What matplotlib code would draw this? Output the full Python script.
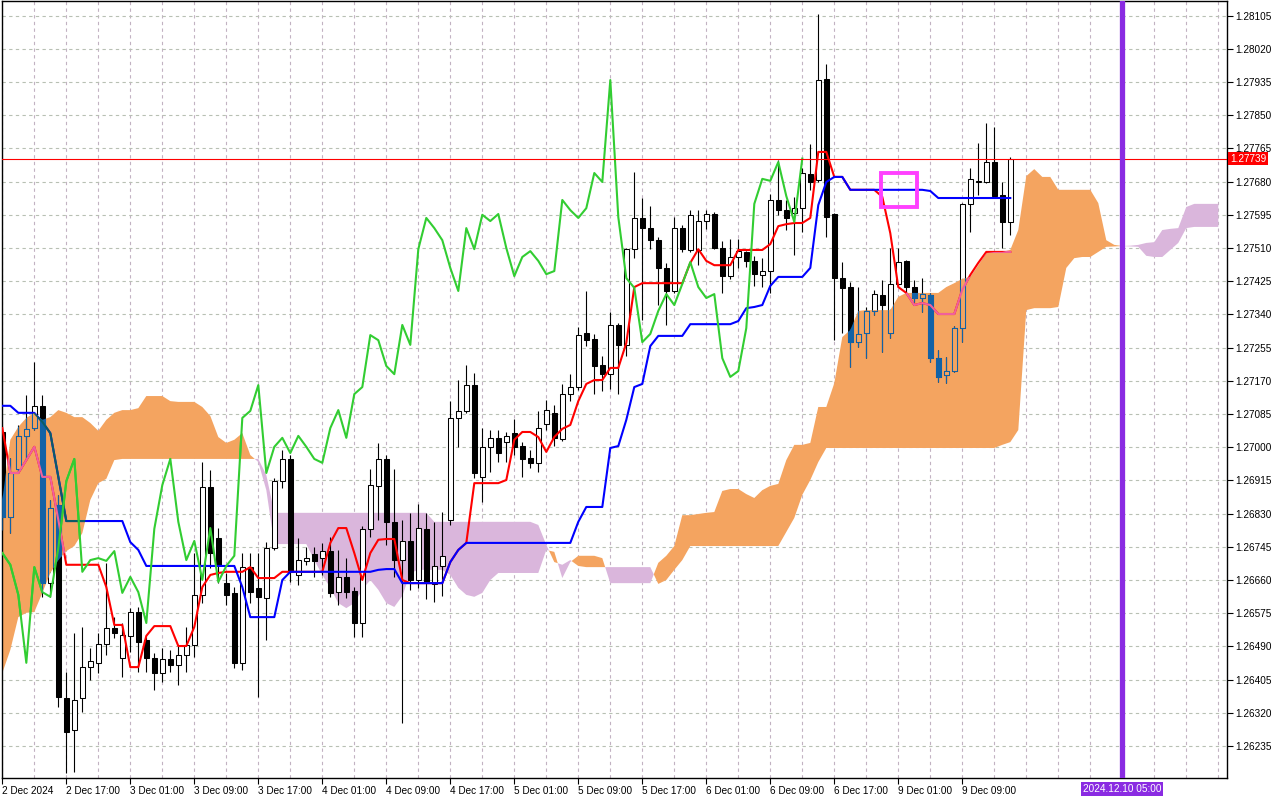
import matplotlib
matplotlib.use('Agg')
import matplotlib.pyplot as plt
import numpy as np
from matplotlib.path import Path

# GBPUSD H1, 2 Dec 2024 09:00 .. 9 Dec 2024 15:00 (127 bars)
opens = [1.27039, 1.26821, 1.26944, 1.27029, 1.27049, 1.27106, 1.26652, 1.26852, 1.26358, 1.26276,
         1.26358, 1.26437, 1.26448, 1.26496, 1.26537, 1.26460, 1.26517, 1.26578, 1.26506, 1.26460,
         1.26422, 1.26458, 1.26443, 1.26468, 1.26494, 1.26622, 1.26898, 1.26768, 1.26652, 1.26627,
         1.26448, 1.26693, 1.26640, 1.26614, 1.26742, 1.26913, 1.26970, 1.26673, 1.26709, 1.26727,
         1.26716, 1.26734, 1.26629, 1.26668, 1.26632, 1.26550, 1.26791, 1.26901, 1.26970, 1.26809,
         1.26711, 1.26760, 1.26660, 1.26791, 1.26650, 1.26696, 1.26814, 1.27075, 1.27093, 1.27159,
         1.26924, 1.27001, 1.27024, 1.27013, 1.27036, 1.27003, 1.26972, 1.26960, 1.27059, 1.27088,
         1.27021, 1.27136, 1.27154, 1.27292, 1.27277, 1.27210, 1.27187, 1.27313, 1.27262, 1.27507,
         1.27587, 1.27561, 1.27530, 1.27459, 1.27400, 1.27561, 1.27505, 1.27505, 1.27579, 1.27597,
         1.27510, 1.27438, 1.27487, 1.27500, 1.27477, 1.27441, 1.27451, 1.27633, 1.27607, 1.27600,
         1.27612, 1.27699, 1.27684, 1.27943, 1.27597, 1.27433, 1.27410, 1.27269, 1.27292, 1.27349,
         1.27390, 1.27292, 1.27418, 1.27477, 1.27410, 1.27382, 1.27390, 1.27228, 1.27185, 1.27195,
         1.27305, 1.27623, 1.27679, 1.27679, 1.27730, 1.27646, 1.27577]
highs = [1.27057, 1.26972, 1.27057, 1.27134, 1.27218, 1.27134, 1.26865, 1.26878, 1.26425, 1.26524,
         1.26540, 1.26486, 1.26524, 1.26704, 1.26565, 1.26550, 1.26588, 1.26591, 1.26514, 1.26473,
         1.26486, 1.26481, 1.26494, 1.26540, 1.26729, 1.26962, 1.26942, 1.26793, 1.26678, 1.26642,
         1.26729, 1.26729, 1.26729, 1.26757, 1.26921, 1.26993, 1.26980, 1.26768, 1.26745, 1.26745,
         1.26755, 1.26770, 1.26737, 1.26716, 1.26642, 1.26798, 1.26944, 1.27011, 1.26980, 1.26944,
         1.26814, 1.26832, 1.26855, 1.26832, 1.26809, 1.26834, 1.27118, 1.27172, 1.27210, 1.27190,
         1.27049, 1.27044, 1.27044, 1.27039, 1.27072, 1.27013, 1.26993, 1.27093, 1.27121, 1.27108,
         1.27162, 1.27187, 1.27308, 1.27400, 1.27290, 1.27233, 1.27346, 1.27318, 1.27510, 1.27705,
         1.27638, 1.27618, 1.27538, 1.27472, 1.27589, 1.27569, 1.27607, 1.27607, 1.27607, 1.27602,
         1.27528, 1.27533, 1.27533, 1.27502, 1.27490, 1.27484, 1.27648, 1.27735, 1.27633, 1.27641,
         1.27715, 1.27776, 1.28109, 1.27981, 1.27600, 1.27474, 1.27423, 1.27410, 1.27359, 1.27403,
         1.27428, 1.27510, 1.27510, 1.27479, 1.27428, 1.27433, 1.27395, 1.27249, 1.27231, 1.27310,
         1.27625, 1.27715, 1.27779, 1.27830, 1.27820, 1.27679, 1.27743]
lows = [1.26788, 1.26780, 1.26934, 1.26967, 1.27044, 1.26617, 1.26617, 1.26335, 1.26166, 1.26169,
        1.26322, 1.26404, 1.26422, 1.26468, 1.26512, 1.26412, 1.26476, 1.26425, 1.26425, 1.26379,
        1.26399, 1.26425, 1.26391, 1.26425, 1.26463, 1.26601, 1.26691, 1.26652, 1.26596, 1.26435,
        1.26430, 1.26601, 1.26361, 1.26506, 1.26737, 1.26896, 1.26655, 1.26647, 1.26699, 1.26668,
        1.26673, 1.26617, 1.26596, 1.26614, 1.26514, 1.26514, 1.26770, 1.26814, 1.26750, 1.26668,
        1.26294, 1.26635, 1.26640, 1.26611, 1.26604, 1.26619, 1.26801, 1.27001, 1.27088, 1.26921,
        1.26860, 1.26937, 1.26962, 1.26962, 1.26980, 1.26924, 1.26947, 1.26937, 1.27044, 1.27003,
        1.27016, 1.27118, 1.27146, 1.27259, 1.27136, 1.27144, 1.27149, 1.27136, 1.27233, 1.27484,
        1.27326, 1.27507, 1.27364, 1.27313, 1.27395, 1.27500, 1.27500, 1.27466, 1.27559, 1.27507,
        1.27395, 1.27431, 1.27459, 1.27461, 1.27413, 1.27410, 1.27395, 1.27595, 1.27556, 1.27492,
        1.27551, 1.27659, 1.27679, 1.27538, 1.27274, 1.27292, 1.27205, 1.27257, 1.27228, 1.27339,
        1.27244, 1.27280, 1.27410, 1.27395, 1.27372, 1.27346, 1.27218, 1.27167, 1.27164, 1.27193,
        1.27269, 1.27551, 1.27646, 1.27676, 1.27638, 1.27510, 1.27543]
closes = [1.26821, 1.26934, 1.27029, 1.27047, 1.27106, 1.26652, 1.26844, 1.26361, 1.26271, 1.26353,
          1.26437, 1.26453, 1.26496, 1.26537, 1.26524, 1.26519, 1.26578, 1.26501, 1.26460, 1.26422,
          1.26458, 1.26443, 1.26468, 1.26494, 1.26622, 1.26898, 1.26729, 1.26699, 1.26622, 1.26448,
          1.26693, 1.26629, 1.26617, 1.26742, 1.26913, 1.26970, 1.26681, 1.26711, 1.26716, 1.26709,
          1.26734, 1.26627, 1.26668, 1.26629, 1.26550, 1.26791, 1.26903, 1.26970, 1.26809, 1.26711,
          1.26760, 1.26660, 1.26793, 1.26655, 1.26696, 1.26722, 1.27075, 1.27093, 1.27159, 1.26934,
          1.27001, 1.27024, 1.26985, 1.27029, 1.27001, 1.26970, 1.26960, 1.27049, 1.27095, 1.27024,
          1.27136, 1.27154, 1.27287, 1.27274, 1.27208, 1.27187, 1.27313, 1.27262, 1.27507, 1.27587,
          1.27561, 1.27530, 1.27459, 1.27400, 1.27561, 1.27507, 1.27595, 1.27579, 1.27597, 1.27510,
          1.27438, 1.27487, 1.27502, 1.27477, 1.27443, 1.27451, 1.27633, 1.27607, 1.27587, 1.27612,
          1.27702, 1.27679, 1.27940, 1.27589, 1.27433, 1.27408, 1.27269, 1.27290, 1.27349, 1.27392,
          1.27364, 1.27418, 1.27474, 1.27410, 1.27382, 1.27392, 1.27228, 1.27180, 1.27195, 1.27305,
          1.27623, 1.27687, 1.27682, 1.27730, 1.27643, 1.27577, 1.27739]

# Ichimoku 9/26/52
tenkan = [1.27049, 1.26934, 1.26934, 1.26967, 1.27001, 1.26924, 1.26924, 1.26814, 1.26699, 1.26699,
          1.26699, 1.26699, 1.26699, 1.26642, 1.26545, 1.26545, 1.26437, 1.26437, 1.26517, 1.26542,
          1.26542, 1.26542, 1.26491, 1.26491, 1.26540, 1.26642, 1.26673, 1.26678, 1.26681, 1.26681,
          1.26681, 1.26693, 1.26665, 1.26665, 1.26665, 1.26681, 1.26681, 1.26681, 1.26681, 1.26681,
          1.26681, 1.26755, 1.26793, 1.26793, 1.26729, 1.26660, 1.26729, 1.26763, 1.26765, 1.26765,
          1.26660, 1.26652, 1.26652, 1.26652, 1.26652, 1.26652, 1.26706, 1.26737, 1.26755, 1.26908,
          1.26908, 1.26908, 1.26908, 1.26916, 1.27019, 1.27039, 1.27039, 1.27026, 1.26988, 1.27026,
          1.27047, 1.27057, 1.27118, 1.27162, 1.27172, 1.27172, 1.27203, 1.27203, 1.27267, 1.27410,
          1.27420, 1.27420, 1.27420, 1.27420, 1.27420, 1.27420, 1.27472, 1.27507, 1.27477, 1.27466,
          1.27466, 1.27466, 1.27505, 1.27505, 1.27505, 1.27505, 1.27520, 1.27566, 1.27571, 1.27574,
          1.27574, 1.27587, 1.27756, 1.27756, 1.27692, 1.27692, 1.27659, 1.27659, 1.27659, 1.27659,
          1.27641, 1.27548, 1.27410, 1.27395, 1.27364, 1.27369, 1.27364, 1.27341, 1.27341, 1.27341,
          1.27403, 1.27441, 1.27472, 1.27500, 1.27500, 1.27500, 1.27500]
kijun = [1.27106, 1.27106, 1.27088, 1.27088, 1.27088, 1.27065, 1.27036, 1.26924, 1.26811, 1.26811,
         1.26811, 1.26811, 1.26811, 1.26811, 1.26811, 1.26811, 1.26757, 1.26737, 1.26696, 1.26696,
         1.26696, 1.26696, 1.26696, 1.26696, 1.26696, 1.26696, 1.26696, 1.26696, 1.26696, 1.26696,
         1.26642, 1.26565, 1.26565, 1.26565, 1.26565, 1.26660, 1.26681, 1.26681, 1.26681, 1.26681,
         1.26681, 1.26681, 1.26681, 1.26681, 1.26681, 1.26681, 1.26681, 1.26686, 1.26688, 1.26688,
         1.26652, 1.26652, 1.26652, 1.26652, 1.26652, 1.26652, 1.26706, 1.26737, 1.26755, 1.26755,
         1.26755, 1.26755, 1.26755, 1.26755, 1.26755, 1.26755, 1.26755, 1.26755, 1.26755, 1.26755,
         1.26755, 1.26755, 1.26809, 1.26847, 1.26847, 1.26847, 1.26998, 1.27003, 1.27070, 1.27154,
         1.27162, 1.27259, 1.27285, 1.27285, 1.27285, 1.27285, 1.27315, 1.27315, 1.27315, 1.27315,
         1.27315, 1.27315, 1.27323, 1.27356, 1.27359, 1.27364, 1.27413, 1.27436, 1.27436, 1.27436,
         1.27436, 1.27459, 1.27620, 1.27679, 1.27692, 1.27692, 1.27659, 1.27659, 1.27659, 1.27659,
         1.27659, 1.27659, 1.27659, 1.27659, 1.27659, 1.27659, 1.27656, 1.27638, 1.27638, 1.27638,
         1.27638, 1.27638, 1.27638, 1.27638, 1.27638, 1.27638, 1.27638]
# Senkou spans, 153 values (26 bars past the last candle)
span_a = [1.26865, 1.27019, 1.27052, 1.27075, 1.27088, 1.27070, 1.27077, 1.27095, 1.27088, 1.27077,
          1.27077, 1.27062, 1.27042, 1.27070, 1.27088, 1.27095, 1.27095, 1.27100, 1.27131, 1.27131,
          1.27131, 1.27118, 1.27116, 1.27116, 1.27116, 1.27103, 1.27080, 1.27026, 1.27011, 1.27019,
          1.27036, 1.26980, 1.26962, 1.26890, 1.26752, 1.26752, 1.26752, 1.26752, 1.26752, 1.26711,
          1.26673, 1.26640, 1.26601, 1.26588, 1.26601, 1.26635, 1.26660, 1.26635, 1.26601, 1.26591,
          1.26619, 1.26678, 1.26686, 1.26686, 1.26686, 1.26686, 1.26673, 1.26640, 1.26622, 1.26617,
          1.26627, 1.26660, 1.26678, 1.26678, 1.26678, 1.26678, 1.26678, 1.26678, 1.26737, 1.26732,
          1.26665, 1.26706, 1.26722, 1.26722, 1.26722, 1.26716, 1.26652, 1.26652, 1.26652, 1.26652,
          1.26652, 1.26652, 1.26704, 1.26722, 1.26747, 1.26826, 1.26826, 1.26829, 1.26832, 1.26834,
          1.26888, 1.26893, 1.26893, 1.26880, 1.26870, 1.26890, 1.26901, 1.26906, 1.26967, 1.27006,
          1.27006, 1.27011, 1.27103, 1.27103, 1.27164, 1.27282, 1.27300, 1.27349, 1.27351, 1.27351,
          1.27351, 1.27351, 1.27385, 1.27395, 1.27395, 1.27395, 1.27395, 1.27395, 1.27410, 1.27420,
          1.27431, 1.27436, 1.27466, 1.27497, 1.27500, 1.27500, 1.27505, 1.27556, 1.27694, 1.27712,
          1.27692, 1.27692, 1.27659, 1.27659, 1.27659, 1.27659, 1.27659, 1.27625, 1.27530, 1.27518,
          1.27515, 1.27514, 1.27513, 1.27490, 1.27487, 1.27487, 1.27505, 1.27523, 1.27561, 1.27564,
          1.27564, 1.27564, 1.27564]
span_b = [1.26422, 1.26481, 1.26565, 1.26576, 1.26578, 1.26627, 1.26678, 1.26711, 1.26734, 1.26747,
          1.26780, 1.26865, 1.26908, 1.26919, 1.26967, 1.26970, 1.26970, 1.26970, 1.26970, 1.26970,
          1.26970, 1.26970, 1.26970, 1.26970, 1.26970, 1.26970, 1.26970, 1.26970, 1.26970, 1.26970,
          1.26970, 1.26970, 1.26970, 1.26929, 1.26832, 1.26832, 1.26832, 1.26832, 1.26832, 1.26832,
          1.26832, 1.26832, 1.26832, 1.26832, 1.26832, 1.26832, 1.26832, 1.26832, 1.26832, 1.26832,
          1.26832, 1.26832, 1.26832, 1.26832, 1.26809, 1.26809, 1.26809, 1.26809, 1.26809, 1.26809,
          1.26809, 1.26809, 1.26809, 1.26809, 1.26809, 1.26809, 1.26809, 1.26801, 1.26750, 1.26706,
          1.26699, 1.26711, 1.26696, 1.26693, 1.26693, 1.26693, 1.26693, 1.26693, 1.26693, 1.26693,
          1.26693, 1.26693, 1.26650, 1.26660, 1.26686, 1.26711, 1.26747, 1.26747, 1.26747, 1.26747,
          1.26747, 1.26747, 1.26747, 1.26747, 1.26747, 1.26747, 1.26747, 1.26747, 1.26783, 1.26819,
          1.26878, 1.26916, 1.26962, 1.26998, 1.26998, 1.26998, 1.26998, 1.26998, 1.26998, 1.26998,
          1.26998, 1.26998, 1.26998, 1.26998, 1.26998, 1.26998, 1.26998, 1.26998, 1.26998, 1.26998,
          1.26998, 1.26998, 1.26998, 1.26998, 1.26998, 1.27006, 1.27013, 1.27044, 1.27351, 1.27356,
          1.27356, 1.27356, 1.27359, 1.27459, 1.27484, 1.27487, 1.27487, 1.27500, 1.27513, 1.27514,
          1.27515, 1.27516, 1.27518, 1.27523, 1.27525, 1.27556, 1.27559, 1.27561, 1.27615, 1.27623,
          1.27623, 1.27623, 1.27623]

time_labels = ['2 Dec 2024', '2 Dec 17:00', '3 Dec 01:00', '3 Dec 09:00', '3 Dec 17:00',
               '4 Dec 01:00', '4 Dec 09:00', '4 Dec 17:00', '5 Dec 01:00', '5 Dec 09:00',
               '5 Dec 17:00', '6 Dec 01:00', '6 Dec 09:00', '6 Dec 17:00', '9 Dec 01:00',
               '9 Dec 09:00']
last_price = 1.27739
marker_bar = 140
marker_text = '2024.12.10 05:00'

plt.rcParams['font.family'] = ['Liberation Sans', 'DejaVu Sans']

O = np.array(opens); H = np.array(highs); L = np.array(lows); C = np.array(closes)
A = np.array(span_a); B = np.array(span_b)
x = np.arange(len(C))
xf = np.arange(len(A))
chikou_shift = 26

fig = plt.figure(figsize=(12.8, 8), dpi=100)
ax = fig.add_axes([2 / 1280, 22 / 800, 1225 / 1280, 777 / 800])
ax.set_xlim(-0.04, 153.09)
ax.set_ylim(1.261531, 1.281424)

# grid
levels = [round(1.26235 + 0.00085 * k, 5) for k in range(23)]
for k in range(0, 156, 4):
    ax.axvline(k, color='#c2b2c2', lw=0.8, ls=(0, (3, 3)), zorder=0)
for lv in levels:
    ax.axhline(lv, color='#b8c0b4', lw=0.8, ls=(0, (3, 3)), zorder=0)

# kumo
cloud_up = ax.fill_between(xf, A, B, where=A >= B, interpolate=True, color='#F4A460', lw=0, zorder=1)
ax.fill_between(xf, A, B, where=A < B, interpolate=True, color='#DAB6DC', lw=0, zorder=1)
clip = Path.make_compound_path(*cloud_up.get_paths())


def candles(up_face, dn_face, edge, z, clip_path=None):
    up = C >= O
    faces = [up_face if u else dn_face for u in up]
    bottom = np.minimum(O, C)
    height = np.maximum(np.abs(C - O), 0.000012)
    wicks = ax.vlines(x, L, H, color=edge, lw=0.8, zorder=z)
    bars = ax.bar(x, height, bottom=bottom, width=0.6, color=faces, edgecolor=edge,
                  linewidth=0.75, zorder=z + 0.1)
    arts = [wicks] + list(bars.patches)
    if clip_path is not None:
        for a in arts:
            a.set_clip_path(clip_path, ax.transData)
    return arts


candles('white', 'black', 'black', 3)
ax.plot(x, tenkan, color='#FF0000', lw=1.5, zorder=4)
ax.plot(x, kijun, color='#0000FF', lw=1.5, zorder=4)
ax.plot(x[:len(C) - chikou_shift], C[chikou_shift:], color='#32CD32', lw=1.5, zorder=4)

# inside the bullish cloud MT4 mixes the colours
candles('#F4A460', '#1262A6', '#1262A6', 5, clip)
t2, = ax.plot(x, tenkan, color='#F0609C', lw=1.5, zorder=6)
k2, = ax.plot(x, kijun, color='#0C5C66', lw=1.5, zorder=6)
c2, = ax.plot(x[:len(C) - chikou_shift], C[chikou_shift:], color='#32CD32', lw=1.5, zorder=6)
for ln in (t2, k2, c2):
    ln.set_clip_path(clip, ax.transData)

# current price
ax.axhline(last_price, color='#FF0000', lw=0.8, zorder=7)
ax.text(1.0025, last_price, f'{last_price:.5f}', transform=ax.get_yaxis_transform(),
        ha='left', va='center', color='white', fontsize=7.2,
        bbox=dict(facecolor='#FF0000', edgecolor='none', pad=1.2), zorder=10, clip_on=False)

# vertical line
ax.axvline(marker_bar, color='#8A2BE2', lw=3.8, zorder=8)
ax.text(marker_bar, -0.0142, marker_text, transform=ax.get_xaxis_transform(),
        ha='center', va='center', color='white', fontsize=7.2,
        bbox=dict(facecolor='#8A2BE2', edgecolor='none', pad=1.2), clip_on=False)

# highlighted square
ax.add_patch(plt.Rectangle((109.9, 1.27614), 4.4, 0.00087, fill=False, edgecolor='#FF40FF',
                           lw=2.8, zorder=9))

# axes
for s in ax.spines.values():
    s.set_color('black')
    s.set_linewidth(1)
ax.yaxis.tick_right()
ax.set_yticks(levels)
ax.set_yticklabels([f'{v:.5f}' for v in levels])
ax.set_xticks(range(0, 8 * len(time_labels), 8))
ax.set_xticklabels(time_labels)
for lbl in ax.get_xticklabels():
    lbl.set_ha('left')
ax.tick_params(axis='both', direction='out', length=4, width=0.8, labelsize=7.2, colors='black')
ax.tick_params(axis='y', pad=2)
ax.tick_params(axis='x', pad=1.5)

fig.savefig('out.png', dpi=100)
